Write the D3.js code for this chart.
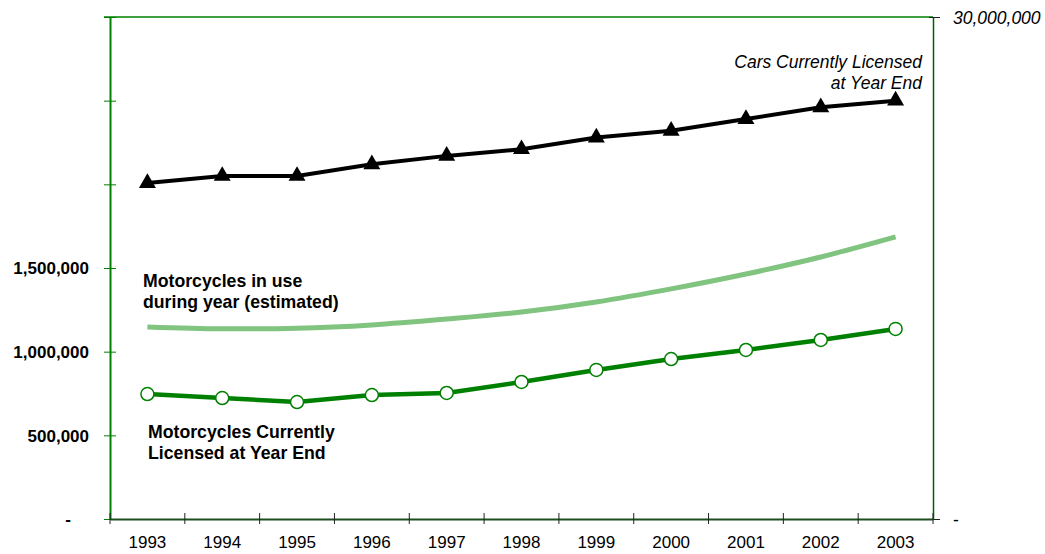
<!DOCTYPE html>
<html>
<head>
<meta charset="utf-8">
<script src="https://cdn.jsdelivr.net/npm/d3@7"></script>
<style>
  body { margin: 0; background: #fff; }
  svg { font-family: "Liberation Sans", Arial, sans-serif; }
</style>
</head>
<body>
<script>
// Data
const years = ["1993", "1994", "1995", "1996", "1997", "1998", "1999", "2000", "2001", "2002", "2003"];
const carsLicensed = [20080000, 20500000, 20500000, 21200000, 21700000, 22100000, 22800000, 23200000, 23900000, 24600000, 25000000];
const motorcyclesLicensed = [747000, 723000, 699000, 741000, 753000, 819000, 891000, 956000, 1010000, 1070000, 1136000];
const motorcyclesInUse = [1148000, 1137000, 1140000, 1160000, 1195000, 1237000, 1297000, 1375000, 1464000, 1566000, 1686000];
const leftTicks = [0, 500000, 1000000, 1500000, 2000000, 2500000, 3000000];
const rightTicks = [0, 30000000];

const width = 1045, height = 554;
const margin = { top: 17, right: 112, bottom: 35, left: 110 };
const green = "#008000", lightGreen = "#80c480";

const svg = d3.select("body").append("svg")
    .attr("width", width)
    .attr("height", height);

const x = d3.scaleBand()
    .domain(years)
    .range([margin.left, width - margin.right])
    .padding(0);
const xc = d => x(d) + x.bandwidth() / 2;

const yL = d3.scaleLinear().domain([0, 3000000]).range([height - margin.bottom, margin.top]);
const yR = d3.scaleLinear().domain([0, 30000000]).range([height - margin.bottom, margin.top]);

// Top frame line
svg.append("line")
    .attr("x1", margin.left - 6).attr("x2", width - margin.right)
    .attr("y1", margin.top).attr("y2", margin.top)
    .attr("stroke", green).attr("stroke-width", 1.5);

// Left axis
const leftAxis = svg.append("g")
    .attr("transform", `translate(${margin.left},0)`)
    .call(d3.axisLeft(yL)
        .tickValues(leftTicks)
        .tickFormat(d => d === 0 ? "-" : d > 1500000 ? "" : d3.format(",")(d))
        .tickSizeOuter(0));
leftAxis.select(".domain").attr("stroke", green).attr("stroke-width", 2);
leftAxis.selectAll(".tick line").attr("x1", -6).attr("x2", 6).attr("stroke", green);
leftAxis.selectAll(".tick text")
    .attr("x", d => d === 0 ? -39 : -21)
    .attr("dy", "0.35em")
    .style("font-size", "17px")
    .style("font-weight", "bold")
    .attr("fill", "#000");

// Right axis
const rightAxis = svg.append("g")
    .attr("transform", `translate(${width - margin.right},0)`)
    .call(d3.axisRight(yR)
        .tickValues(rightTicks)
        .tickFormat(d => d === 0 ? "-" : d3.format(",")(d))
        .tickSizeOuter(0));
rightAxis.select(".domain").attr("stroke", "#006000").attr("stroke-width", 1.5);
rightAxis.selectAll(".tick line").attr("x1", -4).attr("x2", 7).attr("stroke", "#222");
rightAxis.selectAll(".tick text")
    .attr("x", 20)
    .attr("dy", "0.35em")
    .style("font-size", "17.5px")
    .style("font-style", d => d === 0 ? "normal" : "italic")
    .attr("fill", "#000");

// Bottom axis
const bottomAxis = svg.append("g")
    .attr("transform", `translate(0,${height - margin.bottom})`)
    .call(d3.axisBottom(x).tickSize(0).tickSizeOuter(0));
bottomAxis.select(".domain").attr("stroke", "#1d4d1d").attr("stroke-width", 2);
bottomAxis.selectAll(".tick text")
    .attr("dy", 0)
    .attr("y", 29)
    .style("font-size", "17px")
    .attr("fill", "#000");

// Tick marks at category boundaries
const bounds = years.map(d => x(d)).concat([x(years[years.length - 1]) + x.bandwidth()]);
svg.append("g")
    .selectAll("line")
    .data(bounds)
    .join("line")
    .attr("x1", d => d).attr("x2", d => d)
    .attr("y1", height - margin.bottom - 6)
    .attr("y2", height - margin.bottom + 5)
    .attr("stroke", "#222");

// Motorcycles in use (smoothed)
svg.append("path")
    .datum(motorcyclesInUse)
    .attr("fill", "none")
    .attr("stroke", lightGreen)
    .attr("stroke-width", 5)
    .attr("d", d3.line()
        .x((d, i) => xc(years[i]))
        .y(d => yL(d))
        .curve(d3.curveCatmullRom));

// Motorcycles currently licensed
svg.append("path")
    .datum(motorcyclesLicensed)
    .attr("fill", "none")
    .attr("stroke", green)
    .attr("stroke-width", 4.5)
    .attr("d", d3.line()
        .x((d, i) => xc(years[i]))
        .y(d => yL(d)));

svg.append("g")
    .selectAll("circle")
    .data(motorcyclesLicensed)
    .join("circle")
    .attr("cx", (d, i) => xc(years[i]))
    .attr("cy", d => yL(d))
    .attr("r", 6.5)
    .attr("fill", "#fff")
    .attr("stroke", green)
    .attr("stroke-width", 1.5);

// Cars currently licensed
svg.append("path")
    .datum(carsLicensed)
    .attr("fill", "none")
    .attr("stroke", "#000")
    .attr("stroke-width", 4)
    .attr("d", d3.line()
        .x((d, i) => xc(years[i]))
        .y(d => yR(d)));

svg.append("g")
    .selectAll("path")
    .data(carsLicensed)
    .join("path")
    .attr("transform", (d, i) => `translate(${xc(years[i])},${yR(d)})`)
    .attr("d", d3.symbol(d3.symbolTriangle).size(125))
    .attr("fill", "#000");

// Series labels
function label(lines, xPos, yPos, anchor, style) {
    const t = svg.append("text")
        .attr("x", xPos).attr("y", yPos)
        .attr("text-anchor", anchor)
        .style("font-size", style.size)
        .style("font-weight", style.weight || "normal")
        .style("font-style", style.italic ? "italic" : "normal")
        .attr("fill", "#000");
    lines.forEach((l, i) => {
        t.append("tspan").attr("x", xPos).attr("dy", i === 0 ? 0 : 21).text(l);
    });
}

label(["Cars Currently Licensed", "at Year End"], 922, 68, "end", { size: "17.5px", italic: true });
label(["Motorcycles in use", "during year (estimated)"], 143, 287, "start", { size: "17.7px", weight: "bold" });
label(["Motorcycles Currently", "Licensed at Year End"], 148, 438, "start", { size: "17.7px", weight: "bold" });
</script>
</body>
</html>
